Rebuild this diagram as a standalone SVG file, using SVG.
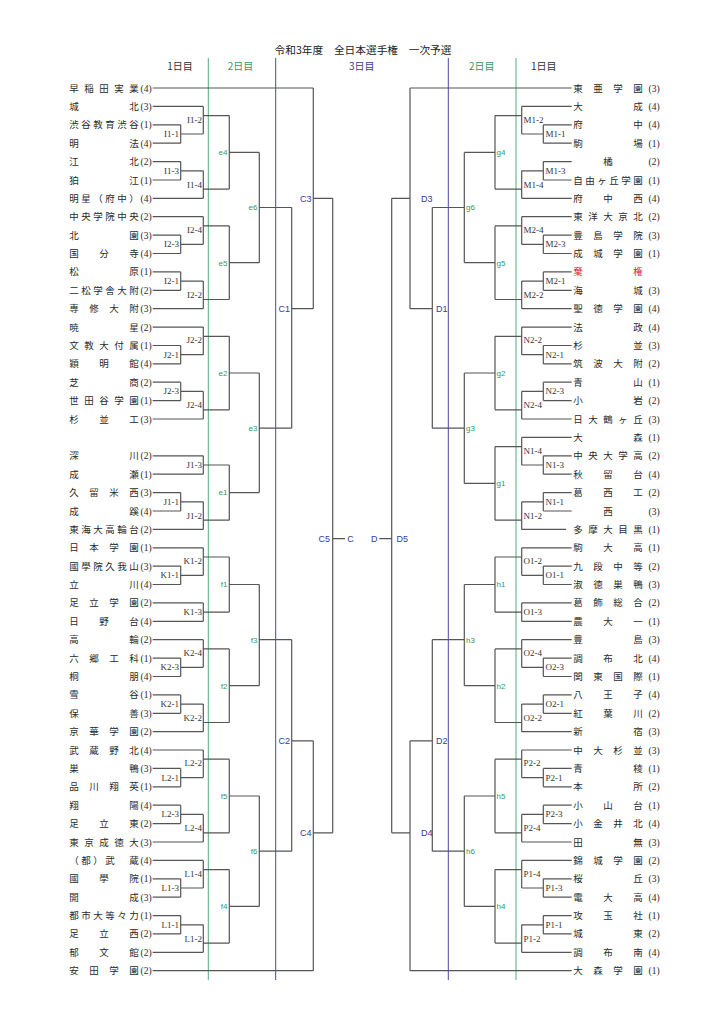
<svg xmlns="http://www.w3.org/2000/svg" width="725" height="1024" viewBox="0 0 725 1024">
<style>
.n{font-family:"Noto Sans CJK JP","Noto Sans CJK SC",sans-serif;font-size:9.5px;fill:#2a2a2a}
.num{font-family:"Liberation Serif",serif;font-size:9.5px;fill:#2a2a2a}
.lb{font-family:"Liberation Serif",serif;font-size:9px;fill:#333}
.lbr{font-family:"Liberation Serif",serif;font-size:9px;fill:#333}
.gr{font-family:"Liberation Sans",sans-serif;font-size:8px;fill:#339966}
.bl{font-family:"Liberation Sans",sans-serif;font-size:9px;fill:#3a3a99}
.hd{font-family:"Noto Sans CJK JP",sans-serif;font-size:10px}
.ln{stroke:#555;stroke-width:1.2;fill:none}
.dg{stroke:#55aa80;stroke-width:1;fill:none}
.db{stroke:#4848a8;stroke-width:1;fill:none}
.e{text-anchor:end}
</style>
<rect width="725" height="1024" fill="#fff"/>
<g id="header">
<text x="363" y="54" text-anchor="middle" font-family="Noto Sans CJK JP, sans-serif" font-size="10.7" fill="#222">令和3年度　全日本選手権　一次予選</text>
<text class="hd" x="180" y="70" text-anchor="middle" fill="#333">1日目</text>
<text class="hd" x="240.5" y="70" text-anchor="middle" fill="#339966">2日目</text>
<text class="hd" x="361.7" y="70" text-anchor="middle" fill="#3a3a99">3日目</text>
<text class="hd" x="481.7" y="70" text-anchor="middle" fill="#339966">2日目</text>
<text class="hd" x="543.7" y="70" text-anchor="middle" fill="#333">1日目</text>
</g>
<g id="daylines">
<path class="dg" d="M208.3 58V980M516 58V980"/>
<path class="db" d="M275.7 58V980M448.3 58V980"/>
</g>
<g id="connectors">
<path class="ln" d="M152.7 88H313.3M152.7 106.4H203.3M152.7 124.8H180.7M152.7 143.2H180.7M152.7 161.6H180.7M152.7 180H180.7M152.7 198.3H203.3M152.7 216.7H203.3M152.7 235.1H180.7M152.7 253.5H180.7M152.7 271.9H180.7M152.7 290.3H180.7M152.7 308.7H203.3M152.7 327.1H203.3M152.7 345.5H180.7M152.7 363.9H180.7M152.7 382.2H180.7M152.7 400.6H180.7M152.7 419H203.3M152.7 455.8H203.3M152.7 474.2H203.3M152.7 492.6H180.7M152.7 511H180.7M152.7 529.4H203.3M152.7 547.8H203.3M152.7 566.1H180.7M152.7 584.5H180.7M152.7 602.9H203.3M152.7 621.3H203.3M152.7 639.7H203.3M152.7 658.1H180.7M152.7 676.5H180.7M152.7 694.9H180.7M152.7 713.3H180.7M152.7 731.7H203.3M152.7 750H203.3M152.7 768.4H180.7M152.7 786.8H180.7M152.7 805.2H180.7M152.7 823.6H180.7M152.7 842H203.3M152.7 860.4H203.3M152.7 878.8H180.7M152.7 897.2H180.7M152.7 915.6H180.7M152.7 933.9H180.7M152.7 952.3H203.3M152.7 970.7H313.3"/>
<path class="ln" d="M180.7 124.8V143.2M180.7 134H203.3M180.7 161.6V180M180.7 170.8H203.3M180.7 235.1V253.5M180.7 244.3H203.3M180.7 271.9V290.3M180.7 281.1H203.3M180.7 345.5V363.9M180.7 354.7H203.3M180.7 382.2V400.6M180.7 391.4H203.3M180.7 492.6V511M180.7 501.8H203.3M180.7 566.1V584.5M180.7 575.3H203.3M180.7 658.1V676.5M180.7 667.3H203.3M180.7 694.9V713.3M180.7 704.1H203.3M180.7 768.4V786.8M180.7 777.6H203.3M180.7 805.2V823.6M180.7 814.4H203.3M180.7 878.8V897.2M180.7 888H203.3M180.7 915.6V933.9M180.7 924.8H203.3"/>
<path class="ln" d="M203.3 106.4V134M203.3 115.6H229.3M203.3 170.8V198.3M203.3 189.1H229.3M203.3 216.7V244.3M203.3 225.9H229.3M203.3 281.1V308.7M203.3 299.5H229.3M203.3 327.1V354.7M203.3 336.3H229.3M203.3 391.4V419M203.3 409.8H229.3M203.3 455.8V474.2M203.3 465H229.3M203.3 501.8V529.4M203.3 520.2H229.3M203.3 547.8V575.3M203.3 557H229.3M203.3 602.9V621.3M203.3 612.1H229.3M203.3 639.7V667.3M203.3 648.9H229.3M203.3 704.1V731.7M203.3 722.5H229.3M203.3 750V777.6M203.3 759.2H229.3M203.3 814.4V842M203.3 832.8H229.3M203.3 860.4V888M203.3 869.6H229.3M203.3 924.8V952.3M203.3 943.1H229.3"/>
<path class="ln" d="M229.3 115.6V189.1M229.3 152.4H259.3M229.3 225.9V299.5M229.3 262.7H259.3M229.3 336.3V409.8M229.3 373H259.3M229.3 465V520.2M229.3 492.6H259.3M229.3 557V612.1M229.3 584.5H259.3M229.3 648.9V722.5M229.3 685.7H259.3M229.3 759.2V832.8M229.3 796H259.3M229.3 869.6V943.1M229.3 906.4H259.3"/>
<path class="ln" d="M259.3 152.4V262.7M259.3 207.5H291.7M259.3 373V492.6M259.3 428.2H291.7M259.3 584.5V685.7M259.3 639.7H291.7M259.3 796V906.4M259.3 851.2H291.7"/>
<path class="ln" d="M291.7 207.5V428.2M291.7 308.7H313.3M291.7 639.7V851.2M291.7 740.8H313.3M313.3 88V308.7M313.3 198.3H332.7M313.3 740.8V970.7M313.3 832.8H332.7M332.7 198.3V832.8M332.7 538.6H345"/>
<path class="ln" d="M410 88H571.7M521.7 106.4H571.7M543.3 124.8H571.7M543.3 143.2H571.7M543.3 161.6H571.7M543.3 180H571.7M521.7 198.3H571.7M521.7 216.7H571.7M543.3 235.1H571.7M543.3 253.5H571.7M543.3 271.9H571.7M543.3 290.3H571.7M521.7 308.7H571.7M521.7 327.1H571.7M543.3 345.5H571.7M543.3 363.9H571.7M543.3 382.2H571.7M543.3 400.6H571.7M521.7 419H571.7M521.7 437.4H571.7M543.3 455.8H571.7M543.3 474.2H571.7M543.3 492.6H571.7M543.3 511H571.7M521.7 529.4H566M521.7 547.8H571.7M543.3 566.1H571.7M543.3 584.5H571.7M521.7 602.9H571.7M521.7 621.3H571.7M521.7 639.7H571.7M543.3 658.1H571.7M543.3 676.5H571.7M543.3 694.9H571.7M543.3 713.3H571.7M521.7 731.7H571.7M521.7 750H571.7M543.3 768.4H571.7M543.3 786.8H571.7M543.3 805.2H571.7M543.3 823.6H571.7M521.7 842H571.7M521.7 860.4H571.7M543.3 878.8H571.7M543.3 897.2H571.7M543.3 915.6H571.7M543.3 933.9H571.7M521.7 952.3H571.7M410 970.7H571.7"/>
<path class="ln" d="M543.3 124.8V143.2M543.3 134H521.7M543.3 161.6V180M543.3 170.8H521.7M543.3 235.1V253.5M543.3 244.3H521.7M543.3 271.9V290.3M543.3 281.1H521.7M543.3 345.5V363.9M543.3 354.7H521.7M543.3 382.2V400.6M543.3 391.4H521.7M543.3 455.8V474.2M543.3 465H521.7M543.3 492.6V511M543.3 501.8H521.7M543.3 566.1V584.5M543.3 575.3H521.7M543.3 658.1V676.5M543.3 667.3H521.7M543.3 694.9V713.3M543.3 704.1H521.7M543.3 768.4V786.8M543.3 777.6H521.7M543.3 805.2V823.6M543.3 814.4H521.7M543.3 878.8V897.2M543.3 888H521.7M543.3 915.6V933.9M543.3 924.8H521.7"/>
<path class="ln" d="M521.7 106.4V134M521.7 115.6H495M521.7 170.8V198.3M521.7 189.1H495M521.7 216.7V244.3M521.7 225.9H495M521.7 281.1V308.7M521.7 299.5H495M521.7 327.1V354.7M521.7 336.3H495M521.7 391.4V419M521.7 409.8H495M521.7 437.4V465M521.7 446.6H495M521.7 501.8V529.4M521.7 520.2H495M521.7 547.8V575.3M521.7 557H495M521.7 602.9V621.3M521.7 612.1H495M521.7 639.7V667.3M521.7 648.9H495M521.7 704.1V731.7M521.7 722.5H495M521.7 750V777.6M521.7 759.2H495M521.7 814.4V842M521.7 832.8H495M521.7 860.4V888M521.7 869.6H495M521.7 924.8V952.3M521.7 943.1H495"/>
<path class="ln" d="M495 115.6V189.1M495 152.4H464.3M495 225.9V299.5M495 262.7H464.3M495 336.3V409.8M495 373H464.3M495 446.6V520.2M495 483.4H464.3M495 557V612.1M495 584.5H464.3M495 648.9V722.5M495 685.7H464.3M495 759.2V832.8M495 796H464.3M495 869.6V943.1M495 906.4H464.3"/>
<path class="ln" d="M464.3 152.4V262.7M464.3 207.5H432.3M464.3 373V483.4M464.3 428.2H432.3M464.3 584.5V685.7M464.3 639.7H432.3M464.3 796V906.4M464.3 851.2H432.3"/>
<path class="ln" d="M432.3 207.5V428.2M432.3 308.7H410M432.3 639.7V851.2M432.3 740.8H410M410 88V308.7M410 198.3H391.7M410 740.8V970.7M410 832.8H391.7M391.7 198.3V832.8M391.7 538.6H379.3"/>
</g>
<g id="teams-left">
<g id="L01"><text class="n" x="69.3 84.3 99.3 114.3 129.3" y="91.5">早稲田実業</text><text class="num" x="140.5" y="91.5">(4)</text></g>
<g id="L02"><text class="n" x="69.3 129.3" y="109.9">城北</text><text class="num" x="140.5" y="109.9">(3)</text></g>
<g id="L03"><text class="n" x="69.3 81.3 93.3 105.3 117.3 129.3" y="128.3">渋谷教育渋谷</text><text class="num" x="140.5" y="128.3">(1)</text></g>
<g id="L04"><text class="n" x="69.3 129.3" y="146.7">明法</text><text class="num" x="140.5" y="146.7">(4)</text></g>
<g id="L05"><text class="n" x="69.3 129.3" y="165.1">江北</text><text class="num" x="140.5" y="165.1">(2)</text></g>
<g id="L06"><text class="n" x="69.3 129.3" y="183.5">狛江</text><text class="num" x="140.5" y="183.5">(1)</text></g>
<g id="L07"><text class="n" x="69.3 81.3 93.3 105.3 117.3 129.3" y="201.8">明星（府中）</text><text class="num" x="140.5" y="201.8">(4)</text></g>
<g id="L08"><text class="n" x="69.3 81.3 93.3 105.3 117.3 129.3" y="220.2">中央学院中央</text><text class="num" x="140.5" y="220.2">(2)</text></g>
<g id="L09"><text class="n" x="69.3 129.3" y="238.6">北園</text><text class="num" x="140.5" y="238.6">(3)</text></g>
<g id="L10"><text class="n" x="69.3 99.3 129.3" y="257">国分寺</text><text class="num" x="140.5" y="257">(4)</text></g>
<g id="L11"><text class="n" x="69.3 129.3" y="275.4">松原</text><text class="num" x="140.5" y="275.4">(1)</text></g>
<g id="L12"><text class="n" x="69.3 81.3 93.3 105.3 117.3 129.3" y="293.8">二松学舎大附</text><text class="num" x="140.5" y="293.8">(2)</text></g>
<g id="L13"><text class="n" x="69.3 89.3 109.3 129.3" y="312.2">専修大附</text><text class="num" x="140.5" y="312.2">(3)</text></g>
<g id="L14"><text class="n" x="69.3 129.3" y="330.6">暁星</text><text class="num" x="140.5" y="330.6">(2)</text></g>
<g id="L15"><text class="n" x="69.3 84.3 99.3 114.3 129.3" y="349">文教大付属</text><text class="num" x="140.5" y="349">(1)</text></g>
<g id="L16"><text class="n" x="69.3 99.3 129.3" y="367.4">穎明館</text><text class="num" x="140.5" y="367.4">(4)</text></g>
<g id="L17"><text class="n" x="69.3 129.3" y="385.7">芝商</text><text class="num" x="140.5" y="385.7">(2)</text></g>
<g id="L18"><text class="n" x="69.3 84.3 99.3 114.3 129.3" y="404.1">世田谷学園</text><text class="num" x="140.5" y="404.1">(1)</text></g>
<g id="L19"><text class="n" x="69.3 99.3 129.3" y="422.5">杉並工</text><text class="num" x="140.5" y="422.5">(3)</text></g>
<g id="L20"><text class="n" x="69.3 129.3" y="459.3">深川</text><text class="num" x="140.5" y="459.3">(2)</text></g>
<g id="L21"><text class="n" x="69.3 129.3" y="477.7">成瀬</text><text class="num" x="140.5" y="477.7">(1)</text></g>
<g id="L22"><text class="n" x="69.3 89.3 109.3 129.3" y="496.1">久留米西</text><text class="num" x="140.5" y="496.1">(3)</text></g>
<g id="L23"><text class="n" x="69.3 129.3" y="514.5">成蹊</text><text class="num" x="140.5" y="514.5">(4)</text></g>
<g id="L24"><text class="n" x="69.3 81.3 93.3 105.3 117.3 129.3" y="532.9">東海大高輪台</text><text class="num" x="140.5" y="532.9">(2)</text></g>
<g id="L25"><text class="n" x="69.3 89.3 109.3 129.3" y="551.3">日本学園</text><text class="num" x="140.5" y="551.3">(1)</text></g>
<g id="L26"><text class="n" x="69.3 81.3 93.3 105.3 117.3 129.3" y="569.6">國學院久我山</text><text class="num" x="140.5" y="569.6">(3)</text></g>
<g id="L27"><text class="n" x="69.3 129.3" y="588">立川</text><text class="num" x="140.5" y="588">(4)</text></g>
<g id="L28"><text class="n" x="69.3 89.3 109.3 129.3" y="606.4">足立学園</text><text class="num" x="140.5" y="606.4">(2)</text></g>
<g id="L29"><text class="n" x="69.3 99.3 129.3" y="624.8">日野台</text><text class="num" x="140.5" y="624.8">(4)</text></g>
<g id="L30"><text class="n" x="69.3 129.3" y="643.2">高輪</text><text class="num" x="140.5" y="643.2">(2)</text></g>
<g id="L31"><text class="n" x="69.3 89.3 109.3 129.3" y="661.6">六郷工科</text><text class="num" x="140.5" y="661.6">(1)</text></g>
<g id="L32"><text class="n" x="69.3 129.3" y="680">桐朋</text><text class="num" x="140.5" y="680">(4)</text></g>
<g id="L33"><text class="n" x="69.3 129.3" y="698.4">雪谷</text><text class="num" x="140.5" y="698.4">(1)</text></g>
<g id="L34"><text class="n" x="69.3 129.3" y="716.8">保善</text><text class="num" x="140.5" y="716.8">(3)</text></g>
<g id="L35"><text class="n" x="69.3 89.3 109.3 129.3" y="735.2">京華学園</text><text class="num" x="140.5" y="735.2">(2)</text></g>
<g id="L36"><text class="n" x="69.3 89.3 109.3 129.3" y="753.5">武蔵野北</text><text class="num" x="140.5" y="753.5">(4)</text></g>
<g id="L37"><text class="n" x="69.3 129.3" y="771.9">巣鴨</text><text class="num" x="140.5" y="771.9">(3)</text></g>
<g id="L38"><text class="n" x="69.3 89.3 109.3 129.3" y="790.3">品川翔英</text><text class="num" x="140.5" y="790.3">(1)</text></g>
<g id="L39"><text class="n" x="69.3 129.3" y="808.7">翔陽</text><text class="num" x="140.5" y="808.7">(4)</text></g>
<g id="L40"><text class="n" x="69.3 99.3 129.3" y="827.1">足立東</text><text class="num" x="140.5" y="827.1">(2)</text></g>
<g id="L41"><text class="n" x="69.3 84.3 99.3 114.3 129.3" y="845.5">東京成徳大</text><text class="num" x="140.5" y="845.5">(3)</text></g>
<g id="L42"><text class="n" x="69.3 81.3 93.3 105.3 129.3" y="863.9">（都）武蔵</text><text class="num" x="140.5" y="863.9">(4)</text></g>
<g id="L43"><text class="n" x="69.3 99.3 129.3" y="882.3">國學院</text><text class="num" x="140.5" y="882.3">(1)</text></g>
<g id="L44"><text class="n" x="69.3 129.3" y="900.7">開成</text><text class="num" x="140.5" y="900.7">(3)</text></g>
<g id="L45"><text class="n" x="69.3 81.3 93.3 105.3 117.3 129.3" y="919.1">都市大等々力</text><text class="num" x="140.5" y="919.1">(1)</text></g>
<g id="L46"><text class="n" x="69.3 99.3 129.3" y="937.4">足立西</text><text class="num" x="140.5" y="937.4">(2)</text></g>
<g id="L47"><text class="n" x="69.3 99.3 129.3" y="955.8">郁文館</text><text class="num" x="140.5" y="955.8">(2)</text></g>
<g id="L48"><text class="n" x="69.3 89.3 109.3 129.3" y="974.2">安田学園</text><text class="num" x="140.5" y="974.2">(2)</text></g>
</g>
<g id="teams-right">
<g id="R01"><text class="n" x="573.3 593.3 613.3 633.3" y="91.5">東亜学園</text><text class="num" x="648.5" y="91.5">(3)</text></g>
<g id="R02"><text class="n" x="573.3 633.3" y="109.9">大成</text><text class="num" x="648.5" y="109.9">(4)</text></g>
<g id="R03"><text class="n" x="573.3 633.3" y="128.3">府中</text><text class="num" x="648.5" y="128.3">(4)</text></g>
<g id="R04"><text class="n" x="573.3 633.3" y="146.7">駒場</text><text class="num" x="648.5" y="146.7">(1)</text></g>
<g id="R05"><text class="n" x="603.3" y="165.1">橘</text><text class="num" x="648.5" y="165.1">(2)</text></g>
<g id="R06"><text class="n" x="573.3 585.3 597.3 609.3 621.3 633.3" y="183.5">自由ヶ丘学園</text><text class="num" x="648.5" y="183.5">(1)</text></g>
<g id="R07"><text class="n" x="573.3 603.3 633.3" y="201.8">府中西</text><text class="num" x="648.5" y="201.8">(4)</text></g>
<g id="R08"><text class="n" x="573.3 588.3 603.3 618.3 633.3" y="220.2">東洋大京北</text><text class="num" x="648.5" y="220.2">(2)</text></g>
<g id="R09"><text class="n" x="573.3 593.3 613.3 633.3" y="238.6">豊島学院</text><text class="num" x="648.5" y="238.6">(3)</text></g>
<g id="R10"><text class="n" x="573.3 593.3 613.3 633.3" y="257">成城学園</text><text class="num" x="648.5" y="257">(1)</text></g>
<g id="R11"><text class="n" x="573.3 633.3" y="275.4" style="fill:#e02020">棄権</text></g>
<g id="R12"><text class="n" x="573.3 633.3" y="293.8">海城</text><text class="num" x="648.5" y="293.8">(3)</text></g>
<g id="R13"><text class="n" x="573.3 593.3 613.3 633.3" y="312.2">聖徳学園</text><text class="num" x="648.5" y="312.2">(4)</text></g>
<g id="R14"><text class="n" x="573.3 633.3" y="330.6">法政</text><text class="num" x="648.5" y="330.6">(4)</text></g>
<g id="R15"><text class="n" x="573.3 633.3" y="349">杉並</text><text class="num" x="648.5" y="349">(3)</text></g>
<g id="R16"><text class="n" x="573.3 593.3 613.3 633.3" y="367.4">筑波大附</text><text class="num" x="648.5" y="367.4">(2)</text></g>
<g id="R17"><text class="n" x="573.3 633.3" y="385.7">青山</text><text class="num" x="648.5" y="385.7">(1)</text></g>
<g id="R18"><text class="n" x="573.3 633.3" y="404.1">小岩</text><text class="num" x="648.5" y="404.1">(2)</text></g>
<g id="R19"><text class="n" x="573.3 588.3 603.3 618.3 633.3" y="422.5">日大鶴ヶ丘</text><text class="num" x="648.5" y="422.5">(3)</text></g>
<g id="R20"><text class="n" x="573.3 633.3" y="440.9">大森</text><text class="num" x="648.5" y="440.9">(1)</text></g>
<g id="R21"><text class="n" x="573.3 588.3 603.3 618.3 633.3" y="459.3">中央大学高</text><text class="num" x="648.5" y="459.3">(2)</text></g>
<g id="R22"><text class="n" x="573.3 603.3 633.3" y="477.7">秋留台</text><text class="num" x="648.5" y="477.7">(4)</text></g>
<g id="R23"><text class="n" x="573.3 603.3 633.3" y="496.1">葛西工</text><text class="num" x="648.5" y="496.1">(2)</text></g>
<g id="R24"><text class="n" x="603.3" y="514.5">西</text><text class="num" x="648.5" y="514.5">(3)</text></g>
<g id="R25"><text class="n" x="573.3 588.3 603.3 618.3 633.3" y="532.9">多摩大目黒</text><text class="num" x="648.5" y="532.9">(1)</text></g>
<g id="R26"><text class="n" x="573.3 603.3 633.3" y="551.3">駒大高</text><text class="num" x="648.5" y="551.3">(1)</text></g>
<g id="R27"><text class="n" x="573.3 593.3 613.3 633.3" y="569.6">九段中等</text><text class="num" x="648.5" y="569.6">(2)</text></g>
<g id="R28"><text class="n" x="573.3 593.3 613.3 633.3" y="588">淑徳巣鴨</text><text class="num" x="648.5" y="588">(3)</text></g>
<g id="R29"><text class="n" x="573.3 593.3 613.3 633.3" y="606.4">葛飾総合</text><text class="num" x="648.5" y="606.4">(2)</text></g>
<g id="R30"><text class="n" x="573.3 603.3 633.3" y="624.8">農大一</text><text class="num" x="648.5" y="624.8">(1)</text></g>
<g id="R31"><text class="n" x="573.3 633.3" y="643.2">豊島</text><text class="num" x="648.5" y="643.2">(3)</text></g>
<g id="R32"><text class="n" x="573.3 603.3 633.3" y="661.6">調布北</text><text class="num" x="648.5" y="661.6">(4)</text></g>
<g id="R33"><text class="n" x="573.3 593.3 613.3 633.3" y="680">関東国際</text><text class="num" x="648.5" y="680">(1)</text></g>
<g id="R34"><text class="n" x="573.3 603.3 633.3" y="698.4">八王子</text><text class="num" x="648.5" y="698.4">(4)</text></g>
<g id="R35"><text class="n" x="573.3 603.3 633.3" y="716.8">紅葉川</text><text class="num" x="648.5" y="716.8">(2)</text></g>
<g id="R36"><text class="n" x="573.3 633.3" y="735.2">新宿</text><text class="num" x="648.5" y="735.2">(3)</text></g>
<g id="R37"><text class="n" x="573.3 593.3 613.3 633.3" y="753.5">中大杉並</text><text class="num" x="648.5" y="753.5">(3)</text></g>
<g id="R38"><text class="n" x="573.3 633.3" y="771.9">青稜</text><text class="num" x="648.5" y="771.9">(1)</text></g>
<g id="R39"><text class="n" x="573.3 633.3" y="790.3">本所</text><text class="num" x="648.5" y="790.3">(2)</text></g>
<g id="R40"><text class="n" x="573.3 603.3 633.3" y="808.7">小山台</text><text class="num" x="648.5" y="808.7">(1)</text></g>
<g id="R41"><text class="n" x="573.3 593.3 613.3 633.3" y="827.1">小金井北</text><text class="num" x="648.5" y="827.1">(4)</text></g>
<g id="R42"><text class="n" x="573.3 633.3" y="845.5">田無</text><text class="num" x="648.5" y="845.5">(3)</text></g>
<g id="R43"><text class="n" x="573.3 593.3 613.3 633.3" y="863.9">錦城学園</text><text class="num" x="648.5" y="863.9">(2)</text></g>
<g id="R44"><text class="n" x="573.3 633.3" y="882.3">桜丘</text><text class="num" x="648.5" y="882.3">(3)</text></g>
<g id="R45"><text class="n" x="573.3 603.3 633.3" y="900.7">電大高</text><text class="num" x="648.5" y="900.7">(4)</text></g>
<g id="R46"><text class="n" x="573.3 603.3 633.3" y="919.1">攻玉社</text><text class="num" x="648.5" y="919.1">(1)</text></g>
<g id="R47"><text class="n" x="573.3 633.3" y="937.4">城東</text><text class="num" x="648.5" y="937.4">(2)</text></g>
<g id="R48"><text class="n" x="573.3 603.3 633.3" y="955.8">調布南</text><text class="num" x="648.5" y="955.8">(4)</text></g>
<g id="R49"><text class="n" x="573.3 593.3 613.3 633.3" y="974.2">大森学園</text><text class="num" x="648.5" y="974.2">(1)</text></g>
</g>
<g id="matches-left">
<g id="m-I1-1"><text class="lb e" x="179" y="137">I1-1</text></g>
<g id="m-I1-3"><text class="lb e" x="179" y="173.8">I1-3</text></g>
<g id="m-I2-3"><text class="lb e" x="179" y="247.3">I2-3</text></g>
<g id="m-I2-1"><text class="lb e" x="179" y="284.1">I2-1</text></g>
<g id="m-J2-1"><text class="lb e" x="179" y="357.7">J2-1</text></g>
<g id="m-J2-3"><text class="lb e" x="179" y="394.4">J2-3</text></g>
<g id="m-J1-1"><text class="lb e" x="179" y="504.8">J1-1</text></g>
<g id="m-K1-1"><text class="lb e" x="179" y="578.3">K1-1</text></g>
<g id="m-K2-3"><text class="lb e" x="179" y="670.3">K2-3</text></g>
<g id="m-K2-1"><text class="lb e" x="179" y="707.1">K2-1</text></g>
<g id="m-L2-1"><text class="lb e" x="179" y="780.6">L2-1</text></g>
<g id="m-L2-3"><text class="lb e" x="179" y="817.4">L2-3</text></g>
<g id="m-L1-3"><text class="lb e" x="179" y="891">L1-3</text></g>
<g id="m-L1-1"><text class="lb e" x="179" y="927.8">L1-1</text></g>
<g id="m-I1-2"><text class="lb e" x="202" y="122.6">I1-2</text></g>
<g id="m-I1-4"><text class="lb e" x="202" y="187.6">I1-4</text></g>
<g id="m-I2-4"><text class="lb e" x="202" y="232.9">I2-4</text></g>
<g id="m-I2-2"><text class="lb e" x="202" y="298">I2-2</text></g>
<g id="m-J2-2"><text class="lb e" x="202" y="343.3">J2-2</text></g>
<g id="m-J2-4"><text class="lb e" x="202" y="408.3">J2-4</text></g>
<g id="m-J1-3"><text class="lb e" x="202" y="468">J1-3</text></g>
<g id="m-J1-2"><text class="lb e" x="202" y="518.7">J1-2</text></g>
<g id="m-K1-2"><text class="lb e" x="202" y="564">K1-2</text></g>
<g id="m-K1-3"><text class="lb e" x="202" y="615.1">K1-3</text></g>
<g id="m-K2-4"><text class="lb e" x="202" y="655.9">K2-4</text></g>
<g id="m-K2-2"><text class="lb e" x="202" y="721">K2-2</text></g>
<g id="m-L2-2"><text class="lb e" x="202" y="766.2">L2-2</text></g>
<g id="m-L2-4"><text class="lb e" x="202" y="831.3">L2-4</text></g>
<g id="m-L1-4"><text class="lb e" x="202" y="876.6">L1-4</text></g>
<g id="m-L1-2"><text class="lb e" x="202" y="941.6">L1-2</text></g>
<g id="m-e4"><text class="gr e" x="227.5" y="155.2">e4</text></g>
<g id="m-e5"><text class="gr e" x="227.5" y="265.5">e5</text></g>
<g id="m-e2"><text class="gr e" x="227.5" y="375.8">e2</text></g>
<g id="m-e1"><text class="gr e" x="227.5" y="495.4">e1</text></g>
<g id="m-f1"><text class="gr e" x="227.5" y="587.3">f1</text></g>
<g id="m-f2"><text class="gr e" x="227.5" y="688.5">f2</text></g>
<g id="m-f5"><text class="gr e" x="227.5" y="798.8">f5</text></g>
<g id="m-f4"><text class="gr e" x="227.5" y="909.2">f4</text></g>
<g id="m-e6"><text class="gr e" x="257.5" y="210.3">e6</text></g>
<g id="m-e3"><text class="gr e" x="257.5" y="431">e3</text></g>
<g id="m-f3"><text class="gr e" x="257.5" y="642.5">f3</text></g>
<g id="m-f6"><text class="gr e" x="257.5" y="854">f6</text></g>
<g id="m-C1"><text class="bl e" x="290" y="311.9">C1</text></g>
<g id="m-C2"><text class="bl e" x="290" y="744">C2</text></g>
<g id="m-C3"><text class="bl e" x="311.5" y="201.5">C3</text></g>
<g id="m-C4"><text class="bl e" x="311.5" y="836">C4</text></g>
<g id="m-C5"><text class="bl e" x="330" y="541.8">C5</text></g>
<g id="m-C"><text class="bl" x="347.3" y="541.8">C</text></g>
</g>
<g id="matches-right">
<g id="m-M1-1"><text class="lbr" x="545.5" y="137">M1-1</text></g>
<g id="m-M1-3"><text class="lbr" x="545.5" y="173.8">M1-3</text></g>
<g id="m-M2-3"><text class="lbr" x="545.5" y="247.3">M2-3</text></g>
<g id="m-M2-1"><text class="lbr" x="545.5" y="284.1">M2-1</text></g>
<g id="m-N2-1"><text class="lbr" x="545.5" y="357.7">N2-1</text></g>
<g id="m-N2-3"><text class="lbr" x="545.5" y="394.4">N2-3</text></g>
<g id="m-N1-3"><text class="lbr" x="545.5" y="468">N1-3</text></g>
<g id="m-N1-1"><text class="lbr" x="545.5" y="504.8">N1-1</text></g>
<g id="m-O1-1"><text class="lbr" x="545.5" y="578.3">O1-1</text></g>
<g id="m-O2-3"><text class="lbr" x="545.5" y="670.3">O2-3</text></g>
<g id="m-O2-1"><text class="lbr" x="545.5" y="707.1">O2-1</text></g>
<g id="m-P2-1"><text class="lbr" x="545.5" y="780.6">P2-1</text></g>
<g id="m-P2-3"><text class="lbr" x="545.5" y="817.4">P2-3</text></g>
<g id="m-P1-3"><text class="lbr" x="545.5" y="891">P1-3</text></g>
<g id="m-P1-1"><text class="lbr" x="545.5" y="927.8">P1-1</text></g>
<g id="m-M1-2"><text class="lbr" x="523.5" y="122.6">M1-2</text></g>
<g id="m-M1-4"><text class="lbr" x="523.5" y="187.6">M1-4</text></g>
<g id="m-M2-4"><text class="lbr" x="523.5" y="232.9">M2-4</text></g>
<g id="m-M2-2"><text class="lbr" x="523.5" y="298">M2-2</text></g>
<g id="m-N2-2"><text class="lbr" x="523.5" y="343.3">N2-2</text></g>
<g id="m-N2-4"><text class="lbr" x="523.5" y="408.3">N2-4</text></g>
<g id="m-N1-4"><text class="lbr" x="523.5" y="453.6">N1-4</text></g>
<g id="m-N1-2"><text class="lbr" x="523.5" y="518.7">N1-2</text></g>
<g id="m-O1-2"><text class="lbr" x="523.5" y="564">O1-2</text></g>
<g id="m-O1-3"><text class="lbr" x="523.5" y="615.1">O1-3</text></g>
<g id="m-O2-4"><text class="lbr" x="523.5" y="655.9">O2-4</text></g>
<g id="m-O2-2"><text class="lbr" x="523.5" y="721">O2-2</text></g>
<g id="m-P2-2"><text class="lbr" x="523.5" y="766.2">P2-2</text></g>
<g id="m-P2-4"><text class="lbr" x="523.5" y="831.3">P2-4</text></g>
<g id="m-P1-4"><text class="lbr" x="523.5" y="876.6">P1-4</text></g>
<g id="m-P1-2"><text class="lbr" x="523.5" y="941.6">P1-2</text></g>
<g id="m-g4"><text class="gr" x="496.5" y="155.2">g4</text></g>
<g id="m-g5"><text class="gr" x="496.5" y="265.5">g5</text></g>
<g id="m-g2"><text class="gr" x="496.5" y="375.8">g2</text></g>
<g id="m-g1"><text class="gr" x="496.5" y="486.2">g1</text></g>
<g id="m-h1"><text class="gr" x="496.5" y="587.3">h1</text></g>
<g id="m-h2"><text class="gr" x="496.5" y="688.5">h2</text></g>
<g id="m-h5"><text class="gr" x="496.5" y="798.8">h5</text></g>
<g id="m-h4"><text class="gr" x="496.5" y="909.2">h4</text></g>
<g id="m-g6"><text class="gr" x="466" y="210.3">g6</text></g>
<g id="m-g3"><text class="gr" x="466" y="431">g3</text></g>
<g id="m-h3"><text class="gr" x="466" y="642.5">h3</text></g>
<g id="m-h6"><text class="gr" x="466" y="854">h6</text></g>
<g id="m-D1"><text class="bl" x="436" y="311.9">D1</text></g>
<g id="m-D2"><text class="bl" x="436" y="744">D2</text></g>
<g id="m-D3"><text class="bl" x="421" y="201.5">D3</text></g>
<g id="m-D4"><text class="bl" x="421" y="836">D4</text></g>
<g id="m-D5"><text class="bl" x="396.5" y="541.8">D5</text></g>
<g id="m-D"><text class="bl e" x="377.5" y="541.8">D</text></g>
</g>
</svg>
